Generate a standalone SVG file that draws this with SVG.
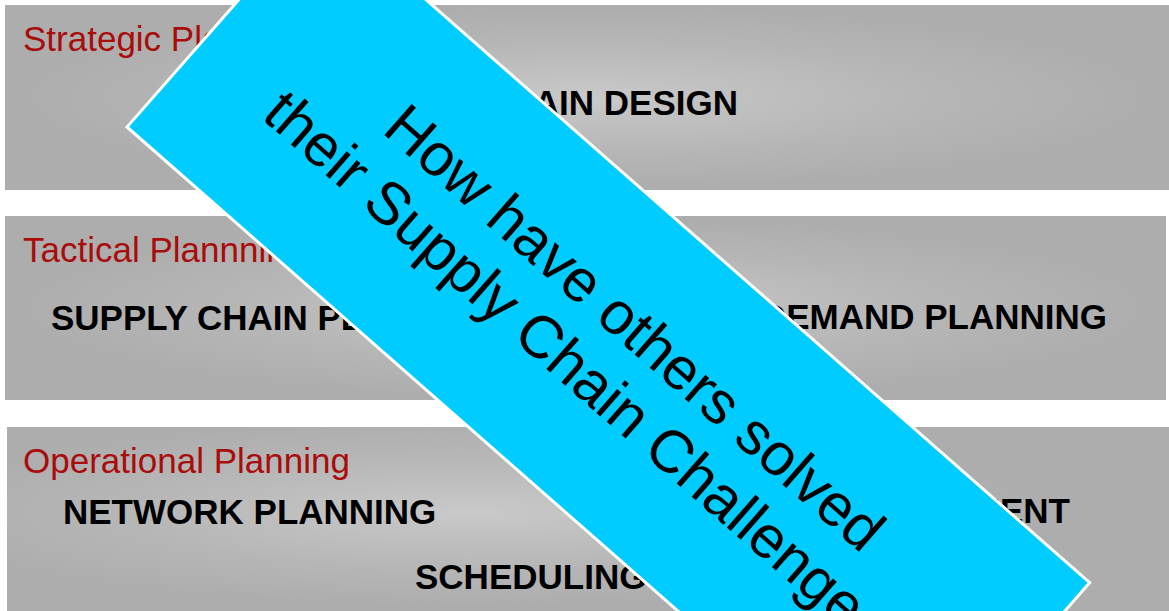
<svg xmlns="http://www.w3.org/2000/svg" width="1169" height="611" viewBox="0 0 1169 611">
  <defs>
    <radialGradient id="bandGrad" cx="0.5" cy="0.5" r="0.5">
      <stop offset="0" stop-color="#c9c9c9"/>
      <stop offset="0.6" stop-color="#b6b6b6"/>
      <stop offset="1" stop-color="#adadad"/>
    </radialGradient>
    <radialGradient id="bandGrad3" cx="0.4" cy="0.45" r="0.5">
      <stop offset="0" stop-color="#c9c9c9"/>
      <stop offset="0.6" stop-color="#b6b6b6"/>
      <stop offset="1" stop-color="#adadad"/>
    </radialGradient>
    <style>
      .band { fill: url(#bandGrad); }
      .label { font-family: "Liberation Sans", Arial, sans-serif; font-size: 35px; fill: #aa0b0b; }
      .item { font-family: "Liberation Sans", Arial, sans-serif; font-size: 35px; font-weight: bold; fill: #000000; }
      .banner { fill: #00ccff; stroke: #ffffff; stroke-width: 3; }
      .bannerText { font-family: "Liberation Sans", Arial, sans-serif; font-size: 60px; fill: #000000; text-anchor: middle; }
    </style>
  </defs>

  <rect width="1169" height="611" fill="#ffffff"/>

  <g id="strategic">
    <rect class="band" x="5" y="5" width="1164" height="185"/>
    <text class="label" x="23" y="51">Strategic Planning</text>
    <text class="item" x="738" y="115" text-anchor="end">SUPPLY CHAIN DESIGN</text>
  </g>

  <g id="tactical">
    <rect class="band" x="5" y="216" width="1161" height="184"/>
    <text class="label" x="23" y="262">Tactical Plannning</text>
    <text class="item" x="51" y="330">SUPPLY CHAIN PLANNING</text>
    <text class="item" x="1107" y="329" text-anchor="end">DEMAND PLANNING</text>
  </g>

  <g id="operational">
    <rect x="7" y="427" width="1162" height="190" fill="url(#bandGrad3)"/>
    <text class="label" x="23" y="473">Operational Planning</text>
    <text class="item" x="63" y="524">NETWORK PLANNING</text>
    <text class="item" x="1070" y="523" text-anchor="end">INVENTORY MANAGEMENT</text>
    <text class="item" x="415" y="589">SCHEDULING</text>
  </g>

  <g id="connectors"></g>

  <g id="banner" transform="translate(127,127) rotate(41.3)">
    <rect class="banner" x="0" y="-293" width="1024" height="293"/>
    <text class="bannerText" x="514" y="-164">How have others solved</text>
    <text class="bannerText" x="514" y="-95">their Supply Chain Challenges?</text>
  </g>
</svg>
